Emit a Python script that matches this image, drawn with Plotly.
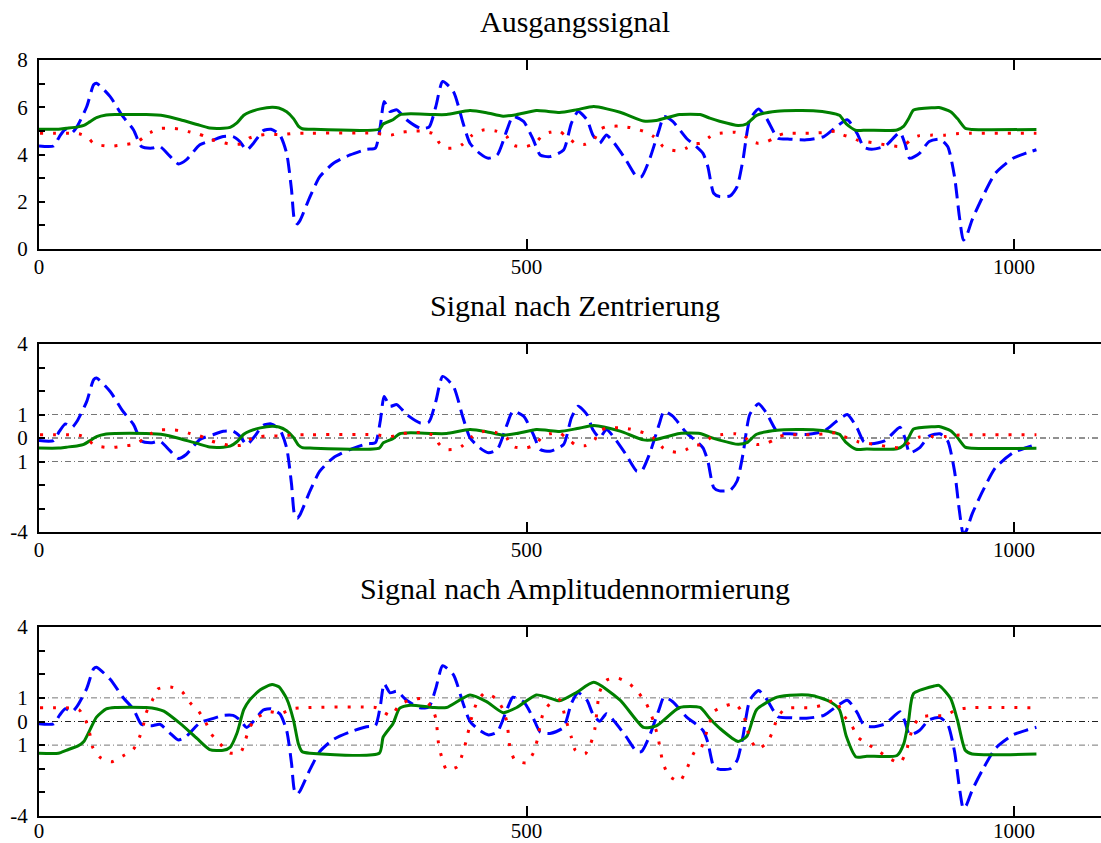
import plotly.graph_objects as go

# ---------------- data ----------------
# raw signals (top panel, "Ausgangssignal")
blue_x = [0, 15, 21, 27, 34, 39, 49, 56, 59, 73, 86, 97, 105, 116, 124, 134, 143, 151, 165, 179,
          189, 199, 206, 213, 220, 230, 238, 247, 254, 259, 262, 265, 268, 278, 288, 302, 319, 336,
          345, 350, 354, 360, 367, 377, 391, 400, 407, 414, 425, 435, 442, 452, 461, 470, 480, 486,
          497, 507, 514, 524, 538, 546, 553, 562, 568, 575, 582, 590, 602, 613, 618, 626, 636, 641,
          650, 664, 674, 681, 686, 692, 698, 709, 716, 722, 729, 738, 746, 758, 770, 787, 805, 818,
          829, 839, 846, 854, 868, 883, 888, 893, 903, 913, 924, 932, 939, 944, 948, 951, 957, 968,
          981, 999, 1014, 1023]
blue_y = [4.36, 4.36, 4.76, 5.07, 4.93, 5.18, 6.03, 6.95, 7.02, 6.45, 5.61, 5.04, 4.34, 4.27, 4.34,
          3.94, 3.60, 3.77, 4.41, 4.62, 4.76, 4.76, 4.55, 4.19, 4.48, 5.01, 5.07, 4.83, 4.05, 2.50,
          1.23, 1.06, 1.23, 2.22, 3.06, 3.63, 3.98, 4.22, 4.27, 5.18, 6.24, 5.82, 5.89, 5.47, 5.11,
          5.16, 6.03, 7.09, 6.67, 5.32, 4.48, 4.05, 3.84, 3.98, 5.04, 5.61, 5.40, 4.62, 3.98, 3.91,
          4.19, 5.32, 5.82, 5.47, 4.83, 4.48, 4.83, 4.48, 3.77, 3.06, 3.06, 3.77, 5.04, 5.61, 5.40,
          4.69, 4.34, 4.05, 3.49, 2.36, 2.22, 2.25, 2.64, 3.77, 5.47, 5.93, 5.54, 4.69, 4.65, 4.62,
          4.76, 5.18, 5.47, 4.90, 4.31, 4.22, 4.36, 4.93, 4.48, 3.84, 4.05, 4.55, 4.65, 4.34, 3.06,
          1.37, 0.38, 0.52, 1.23, 2.22, 3.21, 3.84, 4.08, 4.20]

green_x = [0, 20, 28, 40, 46, 52, 59, 69, 78, 110, 121, 128, 145, 162, 175, 189, 196, 203, 210, 216,
           227, 239, 246, 254, 261, 266, 270, 278, 349, 353, 363, 370, 381, 404, 418, 442, 459, 476,
           490, 510, 521, 534, 552, 569, 596, 620, 633, 657, 678, 688, 698, 717, 726, 736, 757, 777,
           794, 811, 821, 828, 838, 849, 880, 887, 892, 897, 918, 923, 935, 942, 950, 957, 1023]
green_y = [5.07, 5.07, 5.11, 5.17, 5.23, 5.38, 5.56, 5.67, 5.69, 5.69, 5.67, 5.64, 5.47, 5.27, 5.12,
           5.11, 5.15, 5.34, 5.66, 5.79, 5.93, 6.00, 5.97, 5.81, 5.52, 5.20, 5.09, 5.07, 5.07, 5.29,
           5.47, 5.68, 5.72, 5.69, 5.69, 5.86, 5.77, 5.62, 5.69, 5.86, 5.83, 5.78, 5.90, 6.03, 5.79,
           5.42, 5.44, 5.69, 5.69, 5.54, 5.41, 5.23, 5.30, 5.66, 5.83, 5.86, 5.85, 5.77, 5.66, 5.30,
           5.02, 5.03, 5.04, 5.20, 5.52, 5.88, 5.98, 5.99, 5.81, 5.52, 5.11, 5.06, 5.06]

red_x = [1, 15, 28, 41, 48, 52, 55, 62, 74, 86, 97, 103, 107, 110, 116, 122, 135, 147, 155, 164,
         171, 177, 186, 196, 207, 212, 216, 224, 236, 248, 260, 273, 346, 351, 361, 370, 381, 394,
         403, 407, 410, 413, 418, 429, 434, 438, 444, 449, 457, 469, 476, 480, 483, 488, 500, 507,
         511, 517, 524, 534, 540, 546, 550, 560, 566, 570, 575, 582, 594, 606, 615, 623, 630, 635,
         640, 646, 657, 664, 673, 678, 683, 687, 692, 701, 714, 722, 726, 729, 737, 747, 753, 757,
         765, 778, 791, 805, 817, 824, 834, 840, 850, 861, 871, 883, 889, 893, 896, 903, 915, 929,
         941, 955, 1023]
red_y = [4.90, 4.90, 4.90, 4.88, 4.77, 4.64, 4.50, 4.40, 4.35, 4.41, 4.48, 4.60, 4.72, 4.85, 4.97,
         5.09, 5.11, 5.06, 4.95, 4.86, 4.75, 4.63, 4.53, 4.44, 4.45, 4.58, 4.70, 4.80, 4.86, 4.84,
         4.89, 4.90, 4.90, 4.87, 4.82, 4.93, 4.98, 4.99, 4.90, 4.79, 4.52, 4.40, 4.27, 4.30, 4.42,
         4.56, 4.81, 4.95, 5.05, 4.99, 4.88, 4.75, 4.50, 4.37, 4.34, 4.44, 4.57, 4.84, 4.94, 4.98,
         4.79, 4.60, 4.47, 4.43, 4.54, 4.68, 5.06, 5.18, 5.20, 5.14, 5.05, 4.94, 4.77, 4.59, 4.34,
         4.21, 4.15, 4.27, 4.46, 4.47, 4.60, 4.72, 4.86, 4.91, 4.94, 4.84, 4.71, 4.59, 4.48, 4.55,
         4.67, 4.79, 4.89, 4.90, 4.90, 4.93, 4.98, 4.84, 4.71, 4.60, 4.53, 4.46, 4.39, 4.34, 4.44,
         4.59, 4.69, 4.80, 4.82, 4.82, 4.88, 4.90, 4.90]

# centring offsets (signal means) and amplitude scales (standard deviations)
signal_mean = {"blue": 4.47, "green": 5.50, "red": 4.76}
signal_std = {"blue": 1.11, "green": 0.32, "red": 0.24}

panel_titles = ["Ausgangssignal", "Signal nach Zentrierung", "Signal nach Amplitudennormierung"]
x_ticks = [0, 500, 1000]
top_y_major = [0, 2, 4, 6, 8]
top_y_minor = [1, 3, 5, 7]
low_y_major = [-4, -1, 0, 1, 4]
low_y_text = ["-4", "1", "0", "1", "4"]
low_y_minor = [-3, -2, 2, 3]
ref_levels = [-1, 0, 1]

# ---------------- figure ----------------
W, H = 1101, 843
L = 39
x_max = (W - L) / 0.975
panel_px = [(60, 249), (344, 532), (627, 816)]
title_px = [21, 305, 588]
x_label_standoff = [-2, -2, -5]

series = [("blue", blue_x, blue_y, "#0000ff", "15px,7px"),
          ("green", green_x, green_y, "#008000", "solid"),
          ("red", red_x, red_y, "#ff0000", "3px,10px")]

fig = go.Figure()
FONT = "Liberation Serif, Times New Roman, serif"

for p in range(3):
    xa = "x" if p == 0 else f"x{p+1}"
    ya = "y" if p == 0 else f"y{p+1}"
    for name, xs, ys, col, dash in series:
        if p == 0:
            vals = ys
        elif p == 1:
            vals = [v - signal_mean[name] for v in ys]
        else:
            vals = [(v - signal_mean[name]) / signal_std[name] for v in ys]
        fig.add_trace(go.Scatter(x=xs, y=vals, mode="lines", xaxis=xa, yaxis=ya,
                                 line=dict(color=col, width=3, dash=dash, shape="spline", smoothing=0.6),
                                 showlegend=False, hoverinfo="skip"))

axis_common = dict(showline=True, linecolor="black", linewidth=2, showgrid=False, zeroline=False,
                   tickfont=dict(family=FONT, size=21, color="black"), ticks="inside",
                   tickcolor="black", tickwidth=1.5, automargin=False)

for p in range(3):
    top, bot = panel_px[p]
    dom = [1 - bot / H, 1 - top / H]
    xkey = "xaxis" if p == 0 else f"xaxis{p+1}"
    ykey = "yaxis" if p == 0 else f"yaxis{p+1}"
    yanchor_name = "y" if p == 0 else f"y{p+1}"
    xanchor_name = "x" if p == 0 else f"x{p+1}"
    fig.layout[xkey] = dict(axis_common, domain=[0, 1], range=[0, x_max], anchor=yanchor_name,
                            tickvals=x_ticks, ticklen=10, mirror="ticks",
                            ticklabelstandoff=x_label_standoff[p])
    if p == 0:
        ycfg = dict(range=[0, 8], tickvals=top_y_major,
                    minor=dict(tickvals=top_y_minor, ticks="inside", ticklen=6,
                               tickcolor="black", tickwidth=1.5))
    else:
        ycfg = dict(range=[-4, 4], tickvals=low_y_major, ticktext=low_y_text,
                    minor=dict(tickvals=low_y_minor, ticks="inside", ticklen=6,
                               tickcolor="black", tickwidth=1.5))
        for lvl in ref_levels:
            fig.add_shape(type="line", xref=f"{xanchor_name} domain", yref=yanchor_name,
                          x0=0, x1=1, y0=lvl, y1=lvl, layer="below",
                          line=dict(color="#222222" if lvl == 0 else "#777777", width=1,
                                    dash="6px,3px,1px,3px"))
    fig.layout[ykey] = dict(axis_common, domain=dom, anchor=xanchor_name, ticklen=6,
                            mirror=False, ticklabelstandoff=5, **ycfg)
    fig.add_annotation(text=panel_titles[p], xref="paper", yref="paper",
                       x=(575 - L) / (W - L), y=1 - title_px[p] / H,
                       xanchor="center", yanchor="middle", showarrow=False,
                       font=dict(family=FONT, size=30, color="black"))

fig.update_layout(width=W, height=H, margin=dict(l=L, r=0, t=0, b=0, autoexpand=False),
                  plot_bgcolor="white", paper_bgcolor="white")

fig.write_html("out.html", config={"displayModeBar": False},
               post_script="document.body.style.margin='0';")
